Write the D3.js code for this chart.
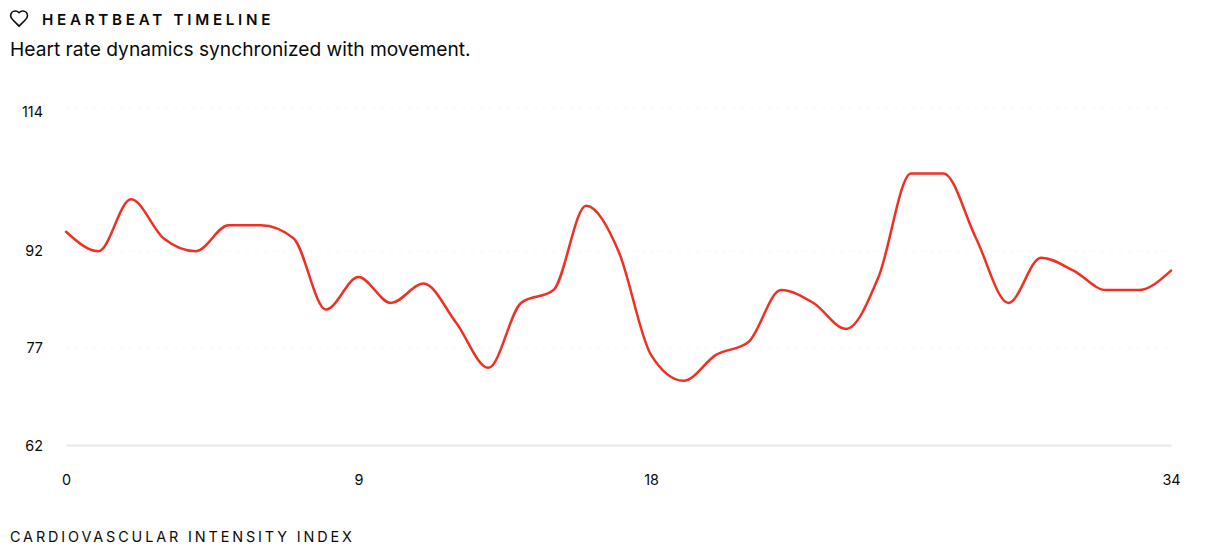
<!DOCTYPE html>
<html><head><meta charset="utf-8">
<script src="https://cdn.jsdelivr.net/npm/d3@7/dist/d3.min.js"></script>
<style>
html,body{margin:0;padding:0;background:#fff;}
svg{display:block;font-family:Inter,sans-serif;}
</style></head><body>
<svg id="c" width="1228" height="560"></svg>
<script>
const minutes = d3.range(0, 35);
const heartRate = [95,92,100,94,92,96,96,94,83,88,84,87,81,74,84,86,99,92,76,72,76,78,86,84,80,88,104,104,94,84,91,89,86,86,89];
const yTicks = [114,92,77,62];
const xTicks = [0,9,18,34];
const title = "HEARTBEAT TIMELINE";
const subtitle = "Heart rate dynamics synchronized with movement.";
const footer = "CARDIOVASCULAR INTENSITY INDEX";

const svg = d3.select("#c");
const x = d3.scaleLinear().domain([0,34]).range([66,1171]);
const y = d3.scaleLinear().domain([62,114]).range([445,108]);
const lineY = d3.scaleLinear().domain([62,114]).range([445.6,108.6]);

// heart icon
svg.append("path")
  .attr("transform","translate(9,8.5) scale(0.84)")
  .attr("d","M19 14c1.49-1.46 3-3.21 3-5.5A5.5 5.5 0 0 0 16.5 3c-1.76 0-3 .5-4.5 2-1.5-1.5-2.74-2-4.5-2A5.5 5.5 0 0 0 2 8.5c0 2.3 1.5 4.05 3 5.5l7 7Z")
  .attr("fill","none").attr("stroke","#0a0a0a").attr("stroke-width",1.9)
  .attr("stroke-linecap","round").attr("stroke-linejoin","round");

svg.append("text").attr("x",42).attr("y",25).text(title)
  .attr("font-size",15.2).attr("font-weight",600).attr("letter-spacing",3.72).attr("fill","#0a0a0a");
svg.append("text").attr("x",10).attr("y",56).text(subtitle)
  .attr("font-size",19.2).attr("font-weight",400).attr("fill","#0a0a0a");
svg.append("text").attr("x",10).attr("y",542).text(footer)
  .attr("font-size",14.4).attr("font-weight",400).attr("letter-spacing",2.88).attr("fill","#0a0a0a");

// grid
svg.append("g").selectAll("line").data(yTicks.filter(d=>d!==62)).join("line")
  .attr("x1",x(0)).attr("x2",x(34)).attr("y1",d=>y(d)+.5).attr("y2",d=>y(d)+.5)
  .attr("stroke","#f5f5f5").attr("stroke-width",1).attr("stroke-dasharray","3 6");

// axes
const yAxis = d3.axisLeft(y).tickValues(yTicks).tickSize(0).tickPadding(23);
const yg = svg.append("g").attr("transform",`translate(${x(0)},0.5)`).call(yAxis);
yg.select(".domain").remove();
yg.selectAll("text").attr("font-family","Inter,sans-serif").attr("font-size",14.4).attr("fill","#0a0a0a")
  .attr("y",d=>d===114?3:0);

const xAxis = d3.axisBottom(x).tickValues(xTicks).tickSize(0).tickPadding(30).tickFormat(d3.format("d"));
const xg = svg.append("g").attr("transform","translate(0,445)").call(xAxis);
xg.select(".domain").attr("stroke","#e8e8e8").attr("stroke-width",2);
xg.selectAll("text").attr("font-family","Inter,sans-serif").attr("font-size",14.4).attr("fill","#0a0a0a");

// line
const line = d3.line().x((d,i)=>x(minutes[i])).y(d=>lineY(d)).curve(d3.curveMonotoneX);
svg.append("path").datum(heartRate).attr("d",line)
  .attr("fill","none").attr("stroke","#ee3124").attr("stroke-width",2.5)
  .attr("stroke-linecap","round").attr("stroke-linejoin","round");
</script></body></html>
